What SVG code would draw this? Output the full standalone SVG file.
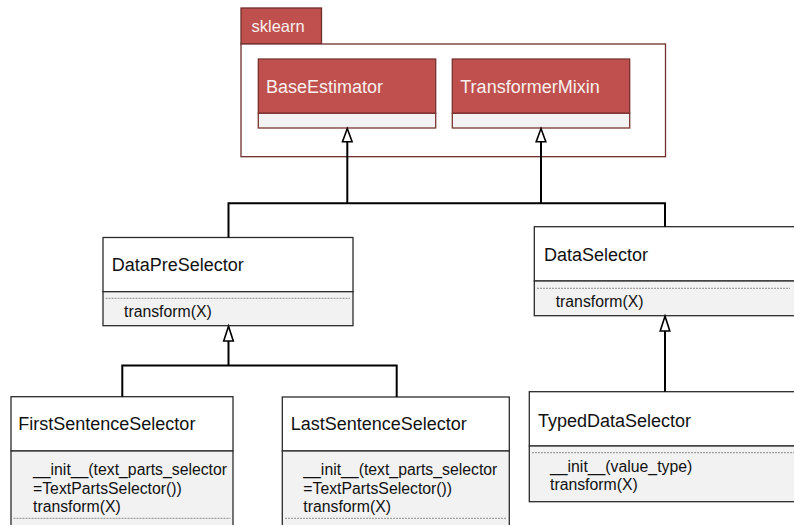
<svg xmlns="http://www.w3.org/2000/svg" width="794" height="525" viewBox="0 0 794 525">
  <style>
    .pkg { fill: #ffffff; stroke: #6e2e2c; stroke-width: 1.3; }
    .pkg-tab { fill: #c0504d; stroke: #6e2e2c; stroke-width: 1.3; }
    .red { fill: #c0504d; stroke: #7a3331; stroke-width: 1.3; }
    .head { fill: #ffffff; stroke: #2b2b2b; stroke-width: 1.3; }
    .body { fill: #f2f2f2; stroke: #2b2b2b; stroke-width: 1.3; }
    .red-body { fill: #f2f2f2; stroke: #7a3331; stroke-width: 1.3; }
    .sep { stroke: #8c8c8c; stroke-width: 1; stroke-dasharray: 2 1; fill: none; }
    .name { font-family: "Liberation Sans", Arial, sans-serif; font-size: 18px; fill: #111111; }
    .name-light { font-family: "Liberation Sans", Arial, sans-serif; font-size: 18px; fill: #f7f0ef; }
    .pkg-label { font-family: "Liberation Sans", Arial, sans-serif; font-size: 16.5px; fill: #f7f0ef; }
    .op { font-family: "Liberation Sans", Arial, sans-serif; font-size: 15.8px; fill: #111111; }
    .link { stroke: #000000; stroke-width: 2; fill: none; }
    .gen { fill: #ffffff; stroke: #000000; stroke-width: 1.6; stroke-linejoin: miter; }
  </style>

  <!-- sklearn package -->
  <g id="sklearn">
    <rect class="pkg-tab" x="241" y="8" width="80.5" height="36"/>
    <rect class="pkg" x="241" y="44" width="424.5" height="112.7"/>
    <text class="pkg-label" x="251.5" y="31.7">sklearn</text>
  </g>

  <g id="BaseEstimator">
    <rect class="red" x="258.3" y="59" width="177.4" height="54.3"/>
    <rect class="red-body" x="258.3" y="113.3" width="177.4" height="14.7"/>
    <text class="name-light" x="266" y="92.7">BaseEstimator</text>
  </g>

  <g id="TransformerMixin">
    <rect class="red" x="452.3" y="59" width="177.4" height="54.3"/>
    <rect class="red-body" x="452.3" y="113.3" width="177.4" height="14.7"/>
    <text class="name-light" x="460.3" y="92.7">TransformerMixin</text>
  </g>

  <g id="DataPreSelector">
    <rect class="head" x="103" y="237.5" width="250" height="54.2"/>
    <rect class="body" x="103" y="291.7" width="250" height="34"/>
    <line class="sep" x1="105.5" y1="298.3" x2="350" y2="298.3"/>
    <text class="name" x="111.7" y="271">DataPreSelector</text>
    <text class="op" x="124" y="316.7">transform(X)</text>
  </g>

  <g id="DataSelector">
    <rect class="head" x="534.3" y="226.7" width="262" height="54.3"/>
    <rect class="body" x="534.3" y="281" width="262" height="34.7"/>
    <line class="sep" x1="537" y1="288.3" x2="790" y2="288.3"/>
    <text class="name" x="544" y="261">DataSelector</text>
    <text class="op" x="555.7" y="306.7">transform(X)</text>
  </g>

  <g id="FirstSentenceSelector">
    <rect class="head" x="11" y="396.7" width="222" height="54.3"/>
    <rect class="body" x="11" y="451" width="222" height="90"/>
    <line class="sep" x1="13.5" y1="518.3" x2="230.5" y2="518.3"/>
    <text class="name" x="18.3" y="430">FirstSentenceSelector</text>
    <text class="op" x="33" y="475">__init__(text_parts_selector</text>
    <text class="op" x="33" y="493.5">=TextPartsSelector())</text>
    <text class="op" x="33" y="512">transform(X)</text>
  </g>

  <g id="LastSentenceSelector">
    <rect class="head" x="282.3" y="397" width="227" height="54"/>
    <rect class="body" x="282.3" y="451" width="227" height="90"/>
    <line class="sep" x1="285" y1="518.3" x2="506.5" y2="518.3"/>
    <text class="name" x="290.7" y="430">LastSentenceSelector</text>
    <text class="op" x="303.3" y="475">__init__(text_parts_selector</text>
    <text class="op" x="303.3" y="493.5">=TextPartsSelector())</text>
    <text class="op" x="303.3" y="512">transform(X)</text>
  </g>

  <g id="TypedDataSelector">
    <rect class="head" x="529.3" y="391.7" width="272" height="54.3"/>
    <rect class="body" x="529.3" y="446" width="272" height="55.7"/>
    <line class="sep" x1="532" y1="452.7" x2="794" y2="452.7"/>
    <text class="name" x="538" y="426.7">TypedDataSelector</text>
    <text class="op" x="550" y="471.7">__init__(value_type)</text>
    <text class="op" x="550" y="490">transform(X)</text>
  </g>

  <!-- generalization connectors: shared trunks join the subclasses -->
  <g id="connectors">
    <polyline class="link" points="228.5,237.5 228.5,203.3 665,203.3 665,226.7"/>
    <line class="link" x1="347.3" y1="141.7" x2="347.3" y2="203.3"/>
    <line class="link" x1="541" y1="141.7" x2="541" y2="203.3"/>
    <polyline class="link" points="122.3,396.7 122.3,365.5 396.7,365.5 396.7,397"/>
    <line class="link" x1="228.5" y1="341" x2="228.5" y2="365.5"/>
    <line class="link" x1="665" y1="331" x2="665" y2="391.7"/>
    <polygon class="gen" points="347.3,128.5 342.5,141.7 352.1,141.7"/>
    <polygon class="gen" points="541,128.5 536.2,141.7 545.8,141.7"/>
    <polygon class="gen" points="228.5,326.2 223.7,341 233.3,341"/>
    <polygon class="gen" points="665,316.2 660.2,331 669.8,331"/>
  </g>
</svg>
